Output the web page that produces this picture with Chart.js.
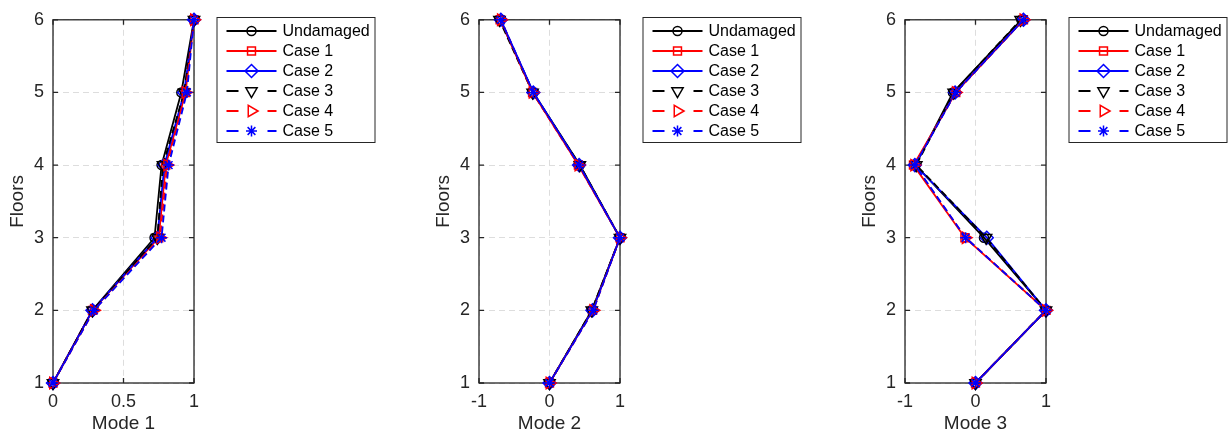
<!DOCTYPE html>
<html><head><meta charset="utf-8">
<script src="https://cdn.jsdelivr.net/npm/chart.js@4/dist/chart.umd.min.js"></script>
<style>
html,body{margin:0;padding:0;background:#fff;width:1230px;height:437px;overflow:hidden;}
.c{position:absolute;top:0;height:437px;}
canvas{display:block;}
</style></head><body>
<div class="c" style="left:0;width:426px"><canvas id="m1" width="426" height="437"></canvas></div>
<div class="c" style="left:426px;width:426px"><canvas id="m2" width="426" height="437"></canvas></div>
<div class="c" style="left:852px;width:378px"><canvas id="m3" width="378" height="437"></canvas></div>
<script>
// ---------- data ----------
const floors = [1, 2, 3, 4, 5, 6];
const seriesNames = ['Undamaged', 'Case 1', 'Case 2', 'Case 3', 'Case 4', 'Case 5'];
const yTicks = [1, 2, 3, 4, 5, 6];
const xTicksMode1 = [0, 0.5, 1];
const xTicksMode23 = [-1, 0, 1];
const axisTitles = ['Mode 1', 'Mode 2', 'Mode 3'];

// Mode 1 (values per floor 1..6)
const mode1Undamaged = [0.00, 0.28, 0.72, 0.77, 0.91, 1.00];
const mode1Case1     = [0.00, 0.28, 0.75, 0.80, 0.94, 1.00];
const mode1Case2     = [0.00, 0.28, 0.74, 0.79, 0.93, 1.00];
const mode1Case3     = [0.00, 0.28, 0.74, 0.78, 0.93, 1.00];
const mode1Case4     = [0.00, 0.29, 0.76, 0.81, 0.94, 1.00];
const mode1Case5     = [0.00, 0.29, 0.77, 0.82, 0.95, 1.00];

// Mode 2
const mode2Undamaged = [0.00, 0.60, 1.00, 0.43, -0.23, -0.70];
const mode2Case1     = [0.00, 0.61, 1.00, 0.41, -0.24, -0.70];
const mode2Case2     = [0.00, 0.61, 1.00, 0.42, -0.23, -0.69];
const mode2Case3     = [0.00, 0.60, 1.00, 0.43, -0.24, -0.71];
const mode2Case4     = [0.00, 0.62, 1.00, 0.41, -0.24, -0.69];
const mode2Case5     = [0.00, 0.62, 1.00, 0.42, -0.23, -0.69];

// Mode 3
const mode3Undamaged = [0.00, 1.00, 0.12, -0.85, -0.32, 0.65];
const mode3Case1     = [0.00, 1.00, -0.15, -0.88, -0.28, 0.68];
const mode3Case2     = [0.00, 1.00, 0.16, -0.86, -0.29, 0.68];
const mode3Case3     = [0.00, 1.00, 0.15, -0.84, -0.31, 0.64];
const mode3Case4     = [0.00, 1.00, -0.14, -0.87, -0.28, 0.68];
const mode3Case5     = [0.00, 1.00, -0.14, -0.86, -0.28, 0.68];

// ---------- styles ----------
const seriesStyles = [
  {color: '#000000', dash: [],     pointStyle: 'circle',   rotation: 0,   radius: 4.5},
  {color: '#ff0000', dash: [],     pointStyle: 'rect',     rotation: 0,   radius: 5.6},
  {color: '#0000ff', dash: [],     pointStyle: 'rectRot',  rotation: 0,   radius: 6.5},
  {color: '#000000', dash: [7, 4], pointStyle: 'triangle', rotation: 180, radius: 6.5},
  {color: '#ff0000', dash: [7, 4], pointStyle: 'triangle', rotation: 90,  radius: 6.5},
  {color: '#0000ff', dash: [7, 4], pointStyle: 'star',     rotation: 0,   radius: 5.5}
];

Chart.defaults.font.family = '"Liberation Sans", Arial, Helvetica, sans-serif';
const TXT = '#262626';

function drawMarker(ctx, st, x, y) {
  ctx.save();
  ctx.strokeStyle = st.color;
  ctx.fillStyle = 'rgba(255,255,255,0)';
  ctx.lineWidth = 1.5;
  ctx.setLineDash([]);
  if (Chart.helpers && Chart.helpers.drawPoint) {
    Chart.helpers.drawPoint(ctx, {pointStyle: st.pointStyle, rotation: st.rotation, radius: st.radius, borderWidth: 1.5}, x, y);
  }
  ctx.restore();
}

const boxPlugin = {
  id: 'matlabBox',
  beforeDatasetsDraw(chart) {
    const {ctx, chartArea: a, scales: {x, y}} = chart;
    ctx.save();
    ctx.strokeStyle = TXT;
    ctx.lineWidth = 1.3;
    ctx.setLineDash([]);
    ctx.strokeRect(a.left, a.top, a.right - a.left, a.bottom - a.top);
    const tl = 5;
    ctx.beginPath();
    x.ticks.forEach(t => {
      const px = x.getPixelForValue(t.value);
      ctx.moveTo(px, a.bottom); ctx.lineTo(px, a.bottom - tl);
      ctx.moveTo(px, a.top); ctx.lineTo(px, a.top + tl);
    });
    y.ticks.forEach(t => {
      const py = y.getPixelForValue(t.value);
      ctx.moveTo(a.left, py); ctx.lineTo(a.left + tl, py);
      ctx.moveTo(a.right, py); ctx.lineTo(a.right - tl, py);
    });
    ctx.stroke();
    ctx.restore();
  }
};

const legendPlugin = {
  id: 'matlabLegend',
  afterDraw(chart) {
    const {ctx, chartArea: a} = chart;
    const x0 = a.right + 22.5, y0 = 17, w = 159, h = 126;
    ctx.save();
    ctx.fillStyle = '#ffffff';
    ctx.fillRect(x0, y0, w, h);
    ctx.strokeStyle = TXT;
    ctx.lineWidth = 1;
    ctx.setLineDash([]);
    ctx.strokeRect(x0 + 0.5, y0 + 0.5, w - 1, h - 1);
    seriesNames.forEach((name, i) => {
      const st = seriesStyles[i];
      const yy = y0 + 14 + i * 20;
      ctx.strokeStyle = st.color;
      ctx.lineWidth = 1.8;
      ctx.beginPath();
      if (st.dash.length) {
        ctx.moveTo(x0 + 10, yy); ctx.lineTo(x0 + 22, yy);
        ctx.moveTo(x0 + 51, yy); ctx.lineTo(x0 + 60, yy);
      } else {
        ctx.moveTo(x0 + 10, yy); ctx.lineTo(x0 + 60, yy);
      }
      ctx.stroke();
      ctx.fillStyle = '#ffffff';
      drawMarker(ctx, st, x0 + 35, yy);
      ctx.fillStyle = '#000000';
      ctx.font = '16px "Liberation Sans", Arial, sans-serif';
      ctx.textBaseline = 'middle';
      ctx.textAlign = 'left';
      ctx.fillText(name, x0 + 66, yy + 1);
    });
    ctx.restore();
  }
};

function makeChart(id, seriesValues, xTicks, xMin, xMax, title, width) {
  const datasets = seriesValues.map((vals, i) => {
    const st = seriesStyles[i];
    return {
      label: seriesNames[i],
      data: floors.map((f, k) => ({x: vals[k], y: f})),
      showLine: true,
      borderColor: st.color,
      borderWidth: 1.8,
      borderDash: st.dash,
      backgroundColor: 'rgba(0,0,0,0)',
      pointStyle: st.pointStyle,
      rotation: st.rotation,
      pointRadius: st.radius,
      pointBorderColor: st.color,
      pointBackgroundColor: 'rgba(0,0,0,0)',
      pointBorderWidth: 1.5,
      clip: false,
      order: 5 - i
    };
  });
  return new Chart(document.getElementById(id), {
    type: 'scatter',
    data: {datasets},
    plugins: [boxPlugin, legendPlugin],
    options: {
      responsive: false,
      animation: false,
      devicePixelRatio: 1,
      layout: {padding: {left: 0, top: 18, right: width - 194, bottom: 0}},
      plugins: {legend: {display: false}, tooltip: {enabled: false}},
      scales: {
        x: {
          type: 'linear', min: xMin, max: xMax,
          afterBuildTicks: s => { s.ticks = xTicks.map(v => ({value: v})); },
          afterFit: s => { s.height = 54; },
          grid: {color: '#dddddd', lineWidth: 1, drawTicks: false},
          border: {display: false, dash: [6, 4]},
          ticks: {padding: 8, color: TXT, font: {size: 18}, maxRotation: 0, callback: v => String(v)},
          title: {display: true, text: title, color: TXT, font: {size: 19}, padding: {top: 0, bottom: 2}}
        },
        y: {
          type: 'linear', min: 1, max: 6,
          afterBuildTicks: s => { s.ticks = yTicks.map(v => ({value: v})); },
          afterFit: s => { s.width = 53; },
          grid: {color: '#dddddd', lineWidth: 1, drawTicks: false},
          border: {display: false, dash: [6, 4]},
          ticks: {padding: 9, color: TXT, font: {size: 18}, callback: v => String(v)},
          title: {display: true, text: 'Floors', color: TXT, font: {size: 19}, padding: {top: 6, bottom: 0}}
        }
      }
    }
  });
}

makeChart('m1', [mode1Undamaged, mode1Case1, mode1Case2, mode1Case3, mode1Case4, mode1Case5], xTicksMode1, 0, 1, axisTitles[0], 426);
makeChart('m2', [mode2Undamaged, mode2Case1, mode2Case2, mode2Case3, mode2Case4, mode2Case5], xTicksMode23, -1, 1, axisTitles[1], 426);
makeChart('m3', [mode3Undamaged, mode3Case1, mode3Case2, mode3Case3, mode3Case4, mode3Case5], xTicksMode23, -1, 1, axisTitles[2], 378);
</script>
</body></html>
